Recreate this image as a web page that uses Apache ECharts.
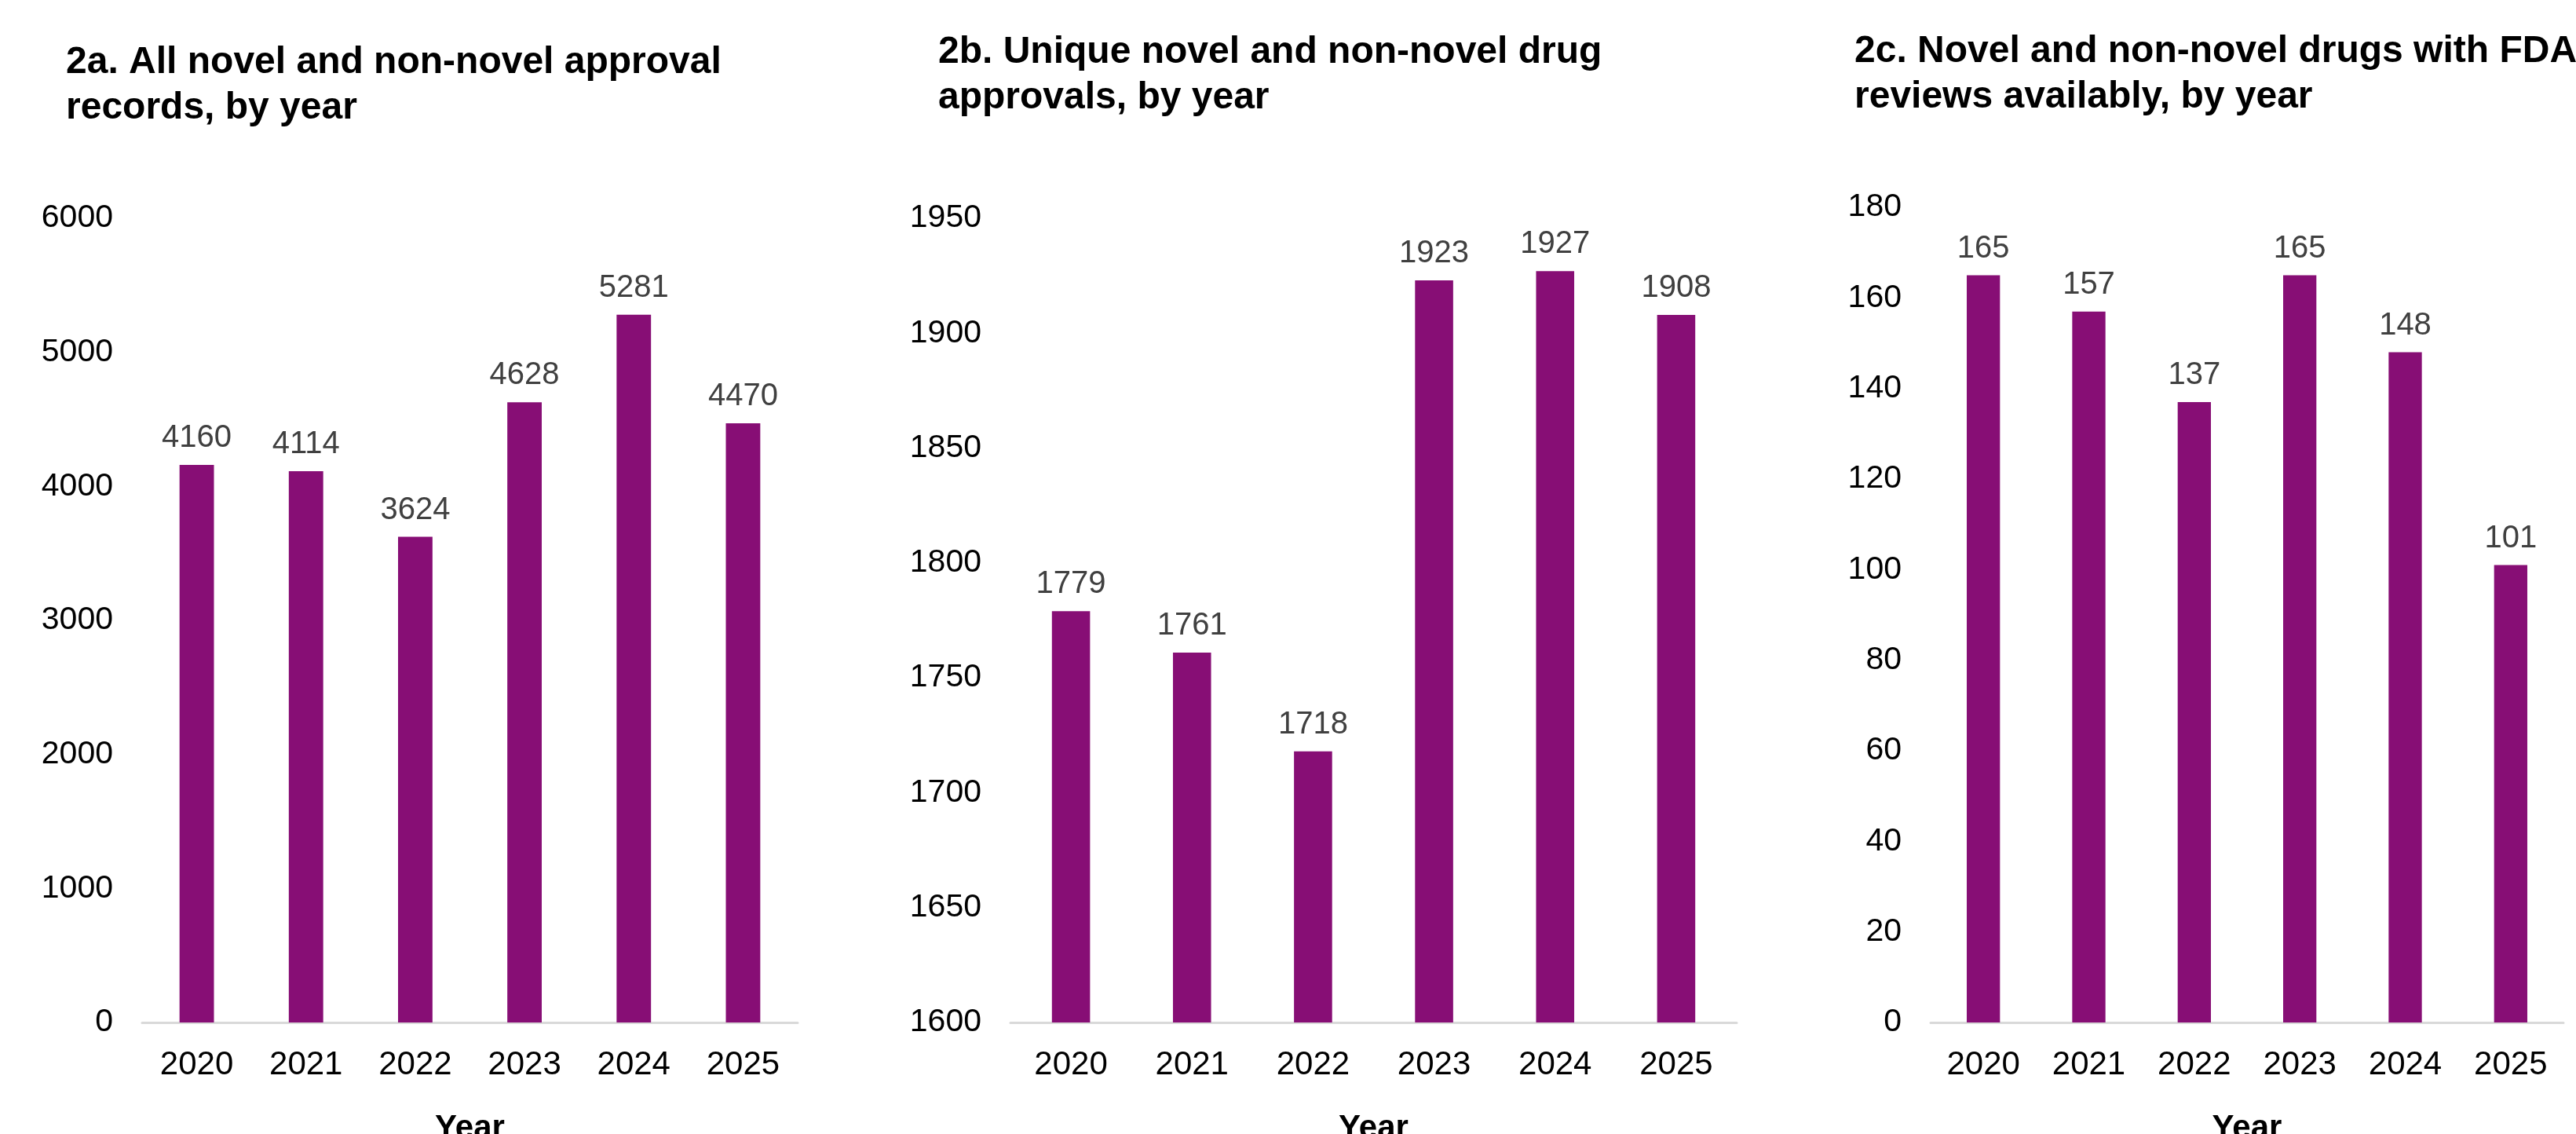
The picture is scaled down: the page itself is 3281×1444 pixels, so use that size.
<!DOCTYPE html>
<html>
<head>
<meta charset="utf-8">
<script src="https://cdn.jsdelivr.net/npm/echarts@6/dist/echarts.min.js"></script>
<style>
html,body{margin:0;padding:0;background:#fff;}
#main{width:3281px;height:1444px;}
</style>
</head>
<body>
<div id="main"></div>
<script>
const years = ['2020','2021','2022','2023','2024','2025'];
const allRecords = [4160, 4114, 3624, 4628, 5281, 4470];
const uniqueApprovals = [1779, 1761, 1718, 1923, 1927, 1908];
const withReviews = [165, 157, 137, 165, 148, 101];
const titles = [
  '2a. All novel and non-novel approval\nrecords, by year',
  '2b. Unique novel and non-novel drug\napprovals, by year',
  '2c. Novel and non-novel drugs with FDA\nreviews availably, by year'
];
const yAxes = [
  {min: 0, max: 6000, interval: 1000},
  {min: 1600, max: 1950, interval: 50},
  {min: 0, max: 180, interval: 20}
];
const xAxisName = 'Year';

const FONT = "'Liberation Sans', Arial, sans-serif";
const BAR = '#870E75';

const grids = [
  {left: 181, top: 278, width: 835, height: 1024},
  {left: 1287, top: 278, width: 925, height: 1024},
  {left: 2459, top: 264, width: 806, height: 1038}
];
const titlePos = [
  {left: 84, top: 51},
  {left: 1195, top: 38},
  {left: 2362, top: 37}
];
const seriesData = [allRecords, uniqueApprovals, withReviews];

const option = {
  backgroundColor: '#fff',
  animation: false,
  title: titles.map((t, i) => ({
    text: t,
    left: titlePos[i].left,
    top: titlePos[i].top,
    padding: 0,
    textStyle: {fontFamily: FONT, fontWeight: 'bold', fontSize: 48, lineHeight: 58, color: '#000'}
  })),
  grid: grids.map(g => Object.assign({containLabel: false, outerBoundsMode: 'none'}, g)),
  xAxis: grids.map((g, i) => ({
    type: 'category',
    gridIndex: i,
    data: years,
    name: xAxisName,
    nameLocation: 'middle',
    nameGap: 114,
    nameTextStyle: {fontFamily: FONT, fontWeight: 'bold', fontSize: 42, color: '#000'},
    axisLine: {show: true, lineStyle: {color: '#D9D9D9', width: 3}},
    axisTick: {show: false},
    axisLabel: {fontFamily: FONT, fontSize: 42, color: '#000', margin: 33}
  })),
  yAxis: yAxes.map((y, i) => ({
    type: 'value',
    gridIndex: i,
    min: y.min,
    max: y.max,
    interval: y.interval,
    axisLine: {show: false},
    axisTick: {show: false},
    splitLine: {show: false},
    axisLabel: {fontFamily: FONT, fontSize: 41, color: '#000', margin: 37, formatter: v => String(v)}
  })),
  series: seriesData.map((d, i) => ({
    type: 'bar',
    xAxisIndex: i,
    yAxisIndex: i,
    data: d,
    barWidth: '31.5%',
    itemStyle: {color: BAR},
    label: {show: true, position: 'top', distance: 14, fontFamily: FONT, fontSize: 40, color: '#404040'}
  }))
};

const chart = echarts.init(document.getElementById('main'), null, {renderer: 'canvas'});
chart.setOption(option);
</script>
</body>
</html>
